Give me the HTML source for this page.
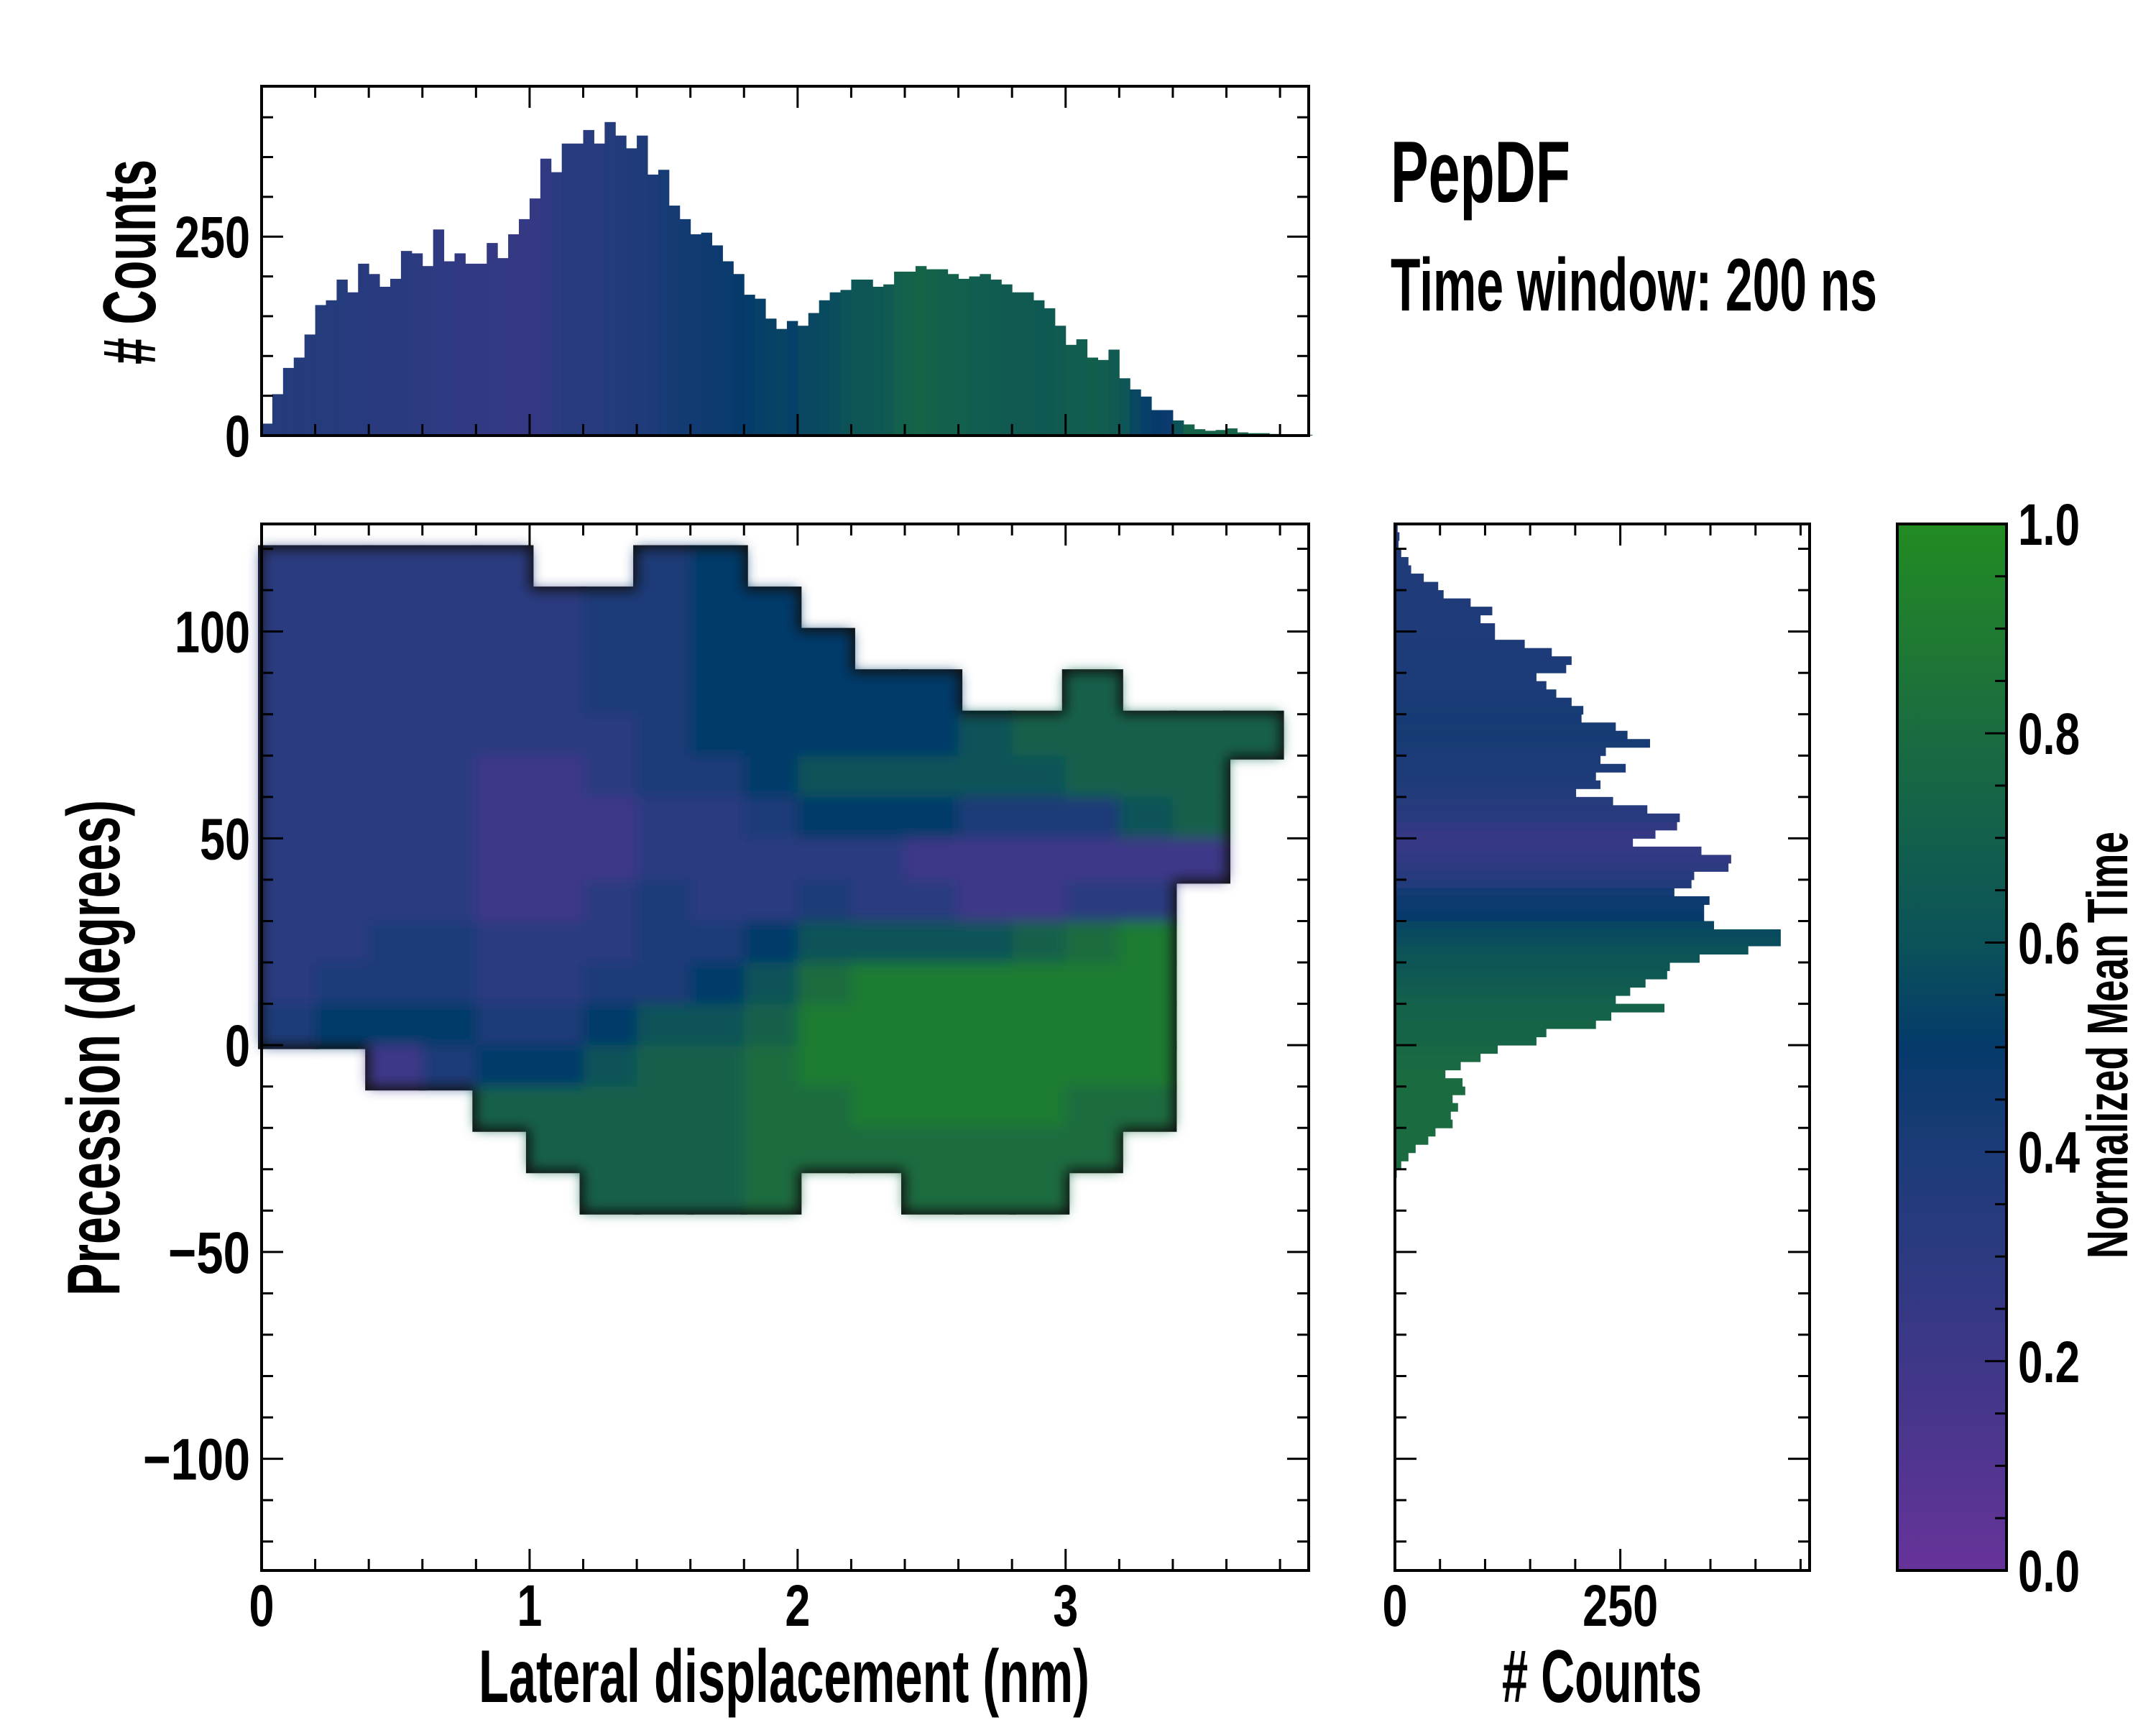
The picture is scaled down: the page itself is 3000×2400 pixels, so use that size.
<!DOCTYPE html>
<html><head><meta charset="utf-8"><style>
html,body{margin:0;padding:0;background:#fff;}
svg{display:block;}
text{font-family:"Liberation Sans Narrow","Liberation Sans",sans-serif;font-weight:bold;fill:#000;}
</style></head><body>
<svg id="chart" width="3000" height="2400" viewBox="0 0 3000 2400" xmlns="http://www.w3.org/2000/svg">
<defs>
<linearGradient id="cbg" x1="0" y1="1" x2="0" y2="0">
<stop offset="0" stop-color="#673399"/><stop offset="0.1" stop-color="#513590"/><stop offset="0.2" stop-color="#3e3788"/><stop offset="0.3" stop-color="#2c3a80"/><stop offset="0.4" stop-color="#1c3b78"/><stop offset="0.5" stop-color="#053a6b"/><stop offset="0.6" stop-color="#0b5259"/><stop offset="0.7" stop-color="#13604c"/><stop offset="0.8" stop-color="#1a6c40"/><stop offset="0.9" stop-color="#1f7b31"/><stop offset="1" stop-color="#228b22"/>
</linearGradient>
<filter id="soft" x="-5%" y="-5%" width="110%" height="110%"><feGaussianBlur stdDeviation="9"/></filter>
</defs>
<g id="heatoutline"></g>
<g id="heat" filter="url(#soft)"></g>
<g id="tophist"></g>
<g id="righthist"></g>
<rect x="2640" y="729" width="152" height="1456" fill="url(#cbg)" stroke="#000" stroke-width="4"/>
<g id="axes"></g>
<text x="1935" y="281" font-size="122" textLength="250" lengthAdjust="spacingAndGlyphs">PepDF</text>
<text x="1935" y="432" font-size="104" textLength="677" lengthAdjust="spacingAndGlyphs">Time window: 200 ns</text>
<text x="666" y="2368" font-size="104" textLength="850" lengthAdjust="spacingAndGlyphs">Lateral displacement (nm)</text>
<text x="2090" y="2368" font-size="104" textLength="278" lengthAdjust="spacingAndGlyphs"># Counts</text>
<text transform="translate(166,1803) rotate(-90)" font-size="104" textLength="690" lengthAdjust="spacingAndGlyphs">Precession (degrees)</text>
<text transform="translate(216,507) rotate(-90)" font-size="104" textLength="285" lengthAdjust="spacingAndGlyphs"># Counts</text>
<text transform="translate(2960,1751) rotate(-90)" font-size="80" textLength="594" lengthAdjust="spacingAndGlyphs">Normalized Mean Time</text>
</svg>
<script>
// ---- data ----
const topBinWidth = 0.04;
const topCounts = [15,52,85,98,127,164,170,196,180,216,203,187,197,232,229,213,259,219,229,216,216,242,223,253,272,298,348,331,367,367,384,367,394,377,361,377,328,334,289,272,253,255,239,219,203,177,172,147,134,144,138,154,170,180,183,196,196,187,190,206,206,213,209,209,203,197,200,203,196,190,180,180,170,160,138,114,121,98,95,108,72,58,49,32,32,19,14,8,6,7,9,4,3,3,2,1,1,1];
const topColor = [0.35,0.35,0.35,0.35,0.35,0.35,0.35,0.35,0.33,0.33,0.32,0.32,0.31,0.31,0.3,0.3,0.29,0.29,0.28,0.27,0.27,0.26,0.26,0.25,0.25,0.25,0.27,0.3,0.33,0.33,0.34,0.34,0.35,0.36,0.37,0.38,0.4,0.42,0.43,0.44,0.45,0.46,0.47,0.48,0.5,0.51,0.52,0.53,0.54,0.52,0.55,0.56,0.57,0.58,0.6,0.62,0.63,0.64,0.66,0.7,0.72,0.73,0.72,0.7,0.7,0.69,0.68,0.68,0.67,0.66,0.66,0.66,0.65,0.65,0.66,0.68,0.68,0.69,0.68,0.66,0.62,0.55,0.52,0.5,0.48,0.6,0.72,0.72,0.72,0.74,0.74,0.72,0.72,0.72,0.72,0.72,0.72,0.72];
const rightBinWidth = 2;
const rightBinStart = [124,122,120,118,116,114,112,110,108,106,104,102,100,98,96,94,92,90,88,86,84,82,80,78,76,74,72,70,68,66,64,62,60,58,56,54,52,50,48,46,44,42,40,38,36,34,32,30,28,26,24,22,20,18,16,14,12,10,8,6,4,2,0,-2,-4,-6,-8,-10,-12,-14,-16,-18,-20,-22,-24,-26,-28,-30,-32,-34,-36];
const rightCounts = [3,5,4,7,15,18,32,48,54,84,108,95,111,111,144,174,196,190,157,168,179,196,209,207,245,258,283,234,228,256,223,228,201,242,280,316,313,289,264,340,373,370,332,329,310,349,343,343,354,428,428,392,338,305,302,278,261,245,299,240,223,168,157,114,95,73,56,75,78,64,70,62,64,45,37,23,15,7,2,1,0];
const rightColor = [0.38,0.38,0.38,0.38,0.38,0.38,0.38,0.38,0.38,0.38,0.38,0.38,0.38,0.38,0.39,0.39,0.4,0.4,0.4,0.4,0.41,0.41,0.42,0.42,0.42,0.42,0.42,0.41,0.4,0.4,0.39,0.38,0.36,0.35,0.34,0.33,0.28,0.25,0.24,0.26,0.28,0.3,0.33,0.36,0.45,0.47,0.48,0.5,0.55,0.57,0.58,0.6,0.62,0.63,0.65,0.66,0.68,0.7,0.72,0.72,0.73,0.73,0.74,0.76,0.78,0.78,0.8,0.8,0.8,0.8,0.8,0.8,0.8,0.8,0.8,0.8,0.8,0.8,0.8,0.8,0.8];
const heatColX = [0,0.2,0.4,0.6,0.8,1.0,1.2,1.4,1.6,1.8,2.0,2.2,2.4,2.6,2.8,3.0,3.2,3.4,3.6];
const heatRowY = [110,100,90,80,70,60,50,40,30,20,10,0,-10,-20,-30,-40];
const heatCellW = 0.2;
const heatCellH = 10;
const heatRows = [
 [3,3,3,3,3,-1,-1,4,5,-1,-1,-1,-1,-1,-1,-1,-1,-1,-1],
 [3,3,3,3,3,3,4,4,5,5,-1,-1,-1,-1,-1,-1,-1,-1,-1],
 [3,3,3,3,3,3,4,4,5,5,5,-1,-1,-1,-1,-1,-1,-1,-1],
 [3,3,3,3,3,3,4,4,5,5,5,5,5,-1,-1,7,-1,-1,-1],
 [3,3,3,3,3,3,3,4,5,5,5,5,5,6,7,7,7,7,7],
 [3,3,3,3,2,2,3,4,4,5,6,6,6,6,6,7,7,7,-1],
 [3,3,3,3,2,2,2,3,3,4,5,5,5,4,4,4,6,7,-1],
 [3,3,3,3,2,2,2,3,3,3,3,3,2,2,2,2,2,2,-1],
 [3,3,3,3,2,2,3,4,3,3,4,3,3,2,2,3,3,-1,-1],
 [3,3,4,4,3,3,3,4,4,5,6,6,6,6,7,8,9,-1,-1],
 [3,4,4,4,3,3,4,4,5,6,8,9,9,9,9,9,9,-1,-1],
 [4,5,5,5,4,4,5,6,6,7,9,9,9,9,9,9,9,-1,-1],
 [-1,-1,2,4,5,5,6,7,7,8,9,9,9,9,9,9,9,-1,-1],
 [-1,-1,-1,-1,7,7,7,7,7,8,8,9,9,9,9,8,8,-1,-1],
 [-1,-1,-1,-1,-1,7,7,7,7,8,8,8,8,8,8,8,-1,-1,-1],
 [-1,-1,-1,-1,-1,-1,7,7,7,8,-1,-1,8,8,8,-1,-1,-1,-1]
];
const xTicks = ["0","1","2","3"];
const yTicks = ["100","50","0","−50","−100"];
const cbTicks = ["0.0","0.2","0.4","0.6","0.8","1.0"];
// ---- layout ----
const M = {x0:364,x1:1821,y0:729,y1:2185,xmin:0,xmax:3.907,ymin:-127,ymax:126};
const T = {y0:120,y1:606,cmax:439};
const R = {x0:1941,x1:2518,cmax:460};
const CB = {x0:2640,x1:2792};
const NS='http://www.w3.org/2000/svg';
const sx = v => M.x0 + (v-M.xmin)/(M.xmax-M.xmin)*(M.x1-M.x0);
const sy = v => M.y0 + (M.ymax-v)/(M.ymax-M.ymin)*(M.y1-M.y0);
const tY = c => T.y1 - c/T.cmax*(T.y1-T.y0);
const rX = c => R.x0 + c/R.cmax*(R.x1-R.x0);
const cbY = v => M.y1 - v*(M.y1-M.y0);
const stops=[[0,[103,51,153]],[0.1,[81,53,144]],[0.2,[62,55,136]],[0.3,[44,58,128]],[0.4,[28,59,120]],[0.5,[5,58,107]],[0.6,[11,82,89]],[0.7,[19,96,76]],[0.8,[26,108,64]],[0.9,[31,123,49]],[1,[34,139,34]]];
function cmap(v){v=Math.max(0,Math.min(1,v));for(let i=1;i<stops.length;i++){if(v<=stops[i][0]){const a=stops[i-1],b=stops[i],t=(v-a[0])/(b[0]-a[0]);return 'rgb('+a[1].map((c,k)=>Math.round(c+(b[1][k]-c)*t)).join(',')+')';}}return 'rgb(34,139,34)';}
function mk(tag,attrs,parent){const e=document.createElementNS(NS,tag);for(const k in attrs)e.setAttribute(k,attrs[k]);parent.appendChild(e);return e;}
// heatmap
const heat=document.getElementById('heat');
const heatOut=document.getElementById('heatoutline');
heatRows.forEach((row,ri)=>{row.forEach((v,ci)=>{if(v<0)return;
 const x=heatColX[ci],y=heatRowY[ri];
 const X=sx(x),Y=sy(y+heatCellH),W=sx(x+heatCellW)-sx(x)+0.5,H=sy(y)-sy(y+heatCellH)+0.5;
 const o=mk('rect',{x:X,y:Y,width:W,height:H,fill:'#111',stroke:'#111','stroke-width':10},heatOut);
 
 
 const r=mk('rect',{x:X,y:Y,width:W,height:H,fill:cmap(v/10)},heat);
 
 
});});
// top hist
const th=document.getElementById('tophist');
topCounts.forEach((c,i)=>{const x=i*topBinWidth;
 const r=mk('rect',{x:sx(x),y:tY(c),width:sx(x+topBinWidth)-sx(x)+0.5,height:T.y1-tY(c),fill:cmap(topColor[i])},th);
 
 
});
// right hist
const rh=document.getElementById('righthist');
rightCounts.forEach((c,i)=>{const y=rightBinStart[i];
 const r=mk('rect',{x:R.x0,y:sy(y+rightBinWidth),width:rX(c)-R.x0,height:sy(y)-sy(y+rightBinWidth)+0.5,fill:cmap(rightColor[i])},rh);
 
 
});
// axes
const ax=document.getElementById('axes');
function frame(x0,y0,x1,y1,name){const r=mk('rect',{x:x0,y:y0,width:x1-x0,height:y1-y0,fill:'none',stroke:'#000','stroke-width':4},ax);}
frame(M.x0,M.y0,M.x1,M.y1,'main-frame');
frame(M.x0,T.y0,M.x1,T.y1,'top-hist-frame');
frame(R.x0,M.y0,R.x1,M.y1,'right-hist-frame');
function ln(x1,y1,x2,y2){mk('line',{x1,y1,x2,y2,stroke:'#000','stroke-width':3},ax);}
function txt(s,x,y,anchor,name){
 const w=[...s].reduce((a,ch)=>a+(ch==='.'?16:(ch==='−'?44:35)),0);
 const t=mk('text',{x,y,'font-size':82,'text-anchor':anchor,textLength:w,lengthAdjust:'spacingAndGlyphs'},ax);
 t.textContent=s;}
const MJ=30,MN=16;
for(let k=0;k<=19;k++){const v=k*0.2;if(v>M.xmax)break;const X=sx(v);const L=(k%5==0)?MJ:MN;
 ln(X,M.y1,X,M.y1-L);ln(X,M.y0,X,M.y0+L);ln(X,T.y1,X,T.y1-L);ln(X,T.y0,X,T.y0+L);}
xTicks.forEach((s,i)=>txt(s,sx(i),2262,'middle','x-tick-label'));
for(let v=-120;v<=120;v+=10){const Y=sy(v);const L=(v%50==0)?MJ:MN;
 ln(M.x0,Y,M.x0+L,Y);ln(M.x1,Y,M.x1-L,Y);ln(R.x0,Y,R.x0+L,Y);ln(R.x1,Y,R.x1-L,Y);}
yTicks.forEach((s,i)=>txt(s,348,sy(100-50*i)+29,'end','y-tick-label'));
for(let c=0;c<=400;c+=50){const Y=tY(c);const L=(c%250==0)?MJ:MN;ln(M.x0,Y,M.x0+L,Y);ln(M.x1,Y,M.x1-L,Y);}
txt('0',348,tY(0)+29,'end','top-hist-y-tick');txt('250',348,tY(250)+29,'end','top-hist-y-tick');
for(let c=0;c<=450;c+=50){const X=rX(c);const L=(c%250==0)?MJ:MN;ln(X,M.y1,X,M.y1-L);ln(X,M.y0,X,M.y0+L);}
txt('0',rX(0),2262,'middle','right-hist-x-tick');txt('250',rX(250),2262,'middle','right-hist-x-tick');
for(let k=0;k<=20;k++){const v=k*0.05;const Y=cbY(v);const L=(k%4==0)?MJ:MN;ln(CB.x1,Y,CB.x1-L,Y);}
cbTicks.forEach((s,i)=>txt(s,2808,cbY(i*0.2)+29,'start','colorbar-tick-label'));
</script>
</body></html>
